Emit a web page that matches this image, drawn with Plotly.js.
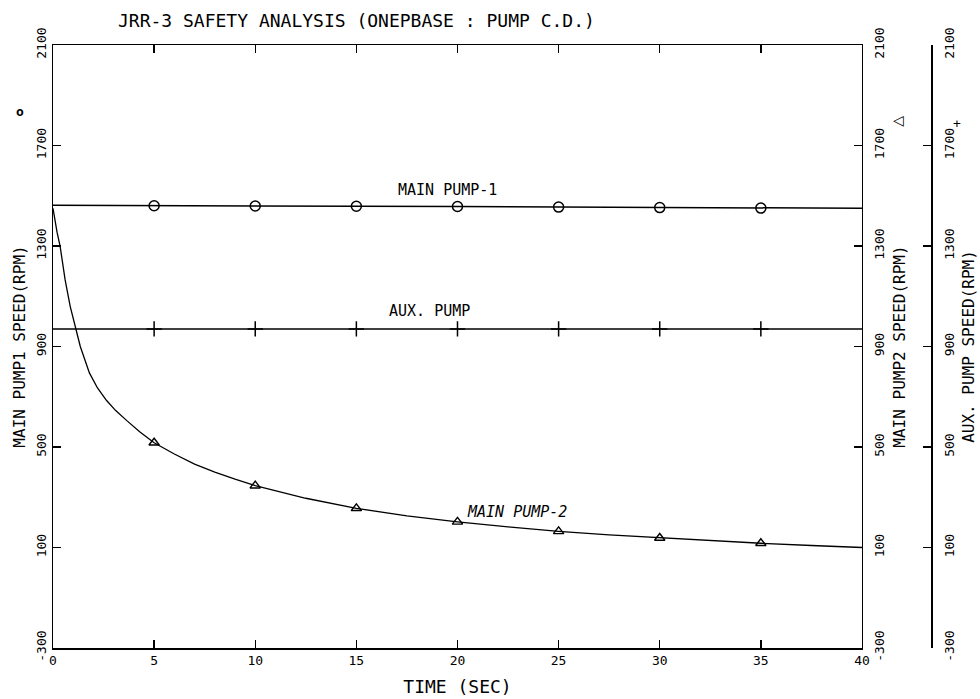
<!DOCTYPE html>
<html>
<head>
<meta charset="utf-8">
<script src="https://cdn.plot.ly/plotly-3.0.1.min.js"></script>
<style>html,body{margin:0;padding:0;background:#fff;}#chart{width:980px;height:699px;}</style>
</head>
<body>
<div id="chart"></div>
<script>
// ---- data ----
const markTimes = [5, 10, 15, 20, 25, 30, 35];

const pump1Time  = [0, 5, 10, 15, 20, 25, 30, 35, 40];
const pump1Speed = [1462, 1460, 1459, 1458, 1457, 1455, 1453, 1451, 1450];

const auxTime  = [0, 5, 10, 15, 20, 25, 30, 35, 40];
const auxSpeed = [970, 970, 970, 970, 970, 970, 970, 970, 970];

const pump2Time  = [0, 0.1, 0.2, 0.35, 0.6, 0.85, 1.1, 1.35, 1.8, 2.2, 2.65, 3.1, 3.65, 4.3, 5,
                    6, 7, 8, 9, 10, 12.5, 15, 17.5, 20, 22.5, 25, 27.5, 30, 32.5, 35, 37.5, 40];
const pump2Speed = [1450, 1395, 1355, 1300, 1165, 1060, 975, 900, 795, 735, 685, 645, 605, 560, 517,
                    472, 432, 400, 372, 346, 296, 256, 226, 202, 182, 164, 150, 138, 127, 117, 108, 100];

const timeTicks  = [0, 5, 10, 15, 20, 25, 30, 35, 40];
const speedTicks = [-300, 100, 500, 900, 1300, 1700, 2100];

const titleText  = 'JRR-3 SAFETY ANALYSIS (ONEPBASE : PUMP C.D.)';
const xTitle     = 'TIME (SEC)';
const y1Title    = 'MAIN PUMP1 SPEED(RPM)';
const y2Title    = 'MAIN PUMP2 SPEED(RPM)';
const y3Title    = 'AUX. PUMP SPEED(RPM)';

// ---- helpers ----
function pick(times, vals) {
  const xs = [], ys = [];
  times.forEach((t, i) => { if (markTimes.includes(t)) { xs.push(t); ys.push(vals[i]); } });
  return {x: xs, y: ys};
}
const FONT = 'DejaVu Sans Mono, Liberation Mono, monospace';
const BLACK = '#000';

const p1m = pick(pump1Time, pump1Speed);
const p2m = pick(pump2Time, pump2Speed);
const axm = pick(auxTime, auxSpeed);

const traces = [
  {x: pump1Time, y: pump1Speed, mode: 'lines', line: {color: BLACK, width: 1.5}, yaxis: 'y', hoverinfo: 'skip'},
  {x: p1m.x, y: p1m.y, mode: 'markers', marker: {symbol: 'circle-open', size: 10, color: BLACK, line: {width: 1.5, color: BLACK}}, yaxis: 'y'},
  {x: pump2Time, y: pump2Speed, mode: 'lines', line: {color: BLACK, width: 1.3}, yaxis: 'y2', hoverinfo: 'skip'},
  {x: p2m.x, y: p2m.y, mode: 'markers', marker: {symbol: 'triangle-up-open', size: 9, color: BLACK, line: {width: 1.4, color: BLACK}}, yaxis: 'y2'},
  {x: auxTime, y: auxSpeed, mode: 'lines', line: {color: BLACK, width: 1.5}, yaxis: 'y3', hoverinfo: 'skip'},
  {x: axm.x, y: axm.y, mode: 'markers', marker: {symbol: 'cross-thin-open', size: 11, color: BLACK, line: {width: 1.5, color: BLACK}}, yaxis: 'y3'}
];

const yCommon = {
  range: [-300, 2100], tickvals: speedTicks, ticktext: speedTicks.map(String),
  ticks: 'inside', ticklen: 8, tickwidth: 1.4, tickcolor: BLACK, tickangle: -90,
  showgrid: false, zeroline: false, showline: true, linecolor: BLACK, linewidth: 1.5,
  tickfont: {family: FONT, size: 13, color: BLACK}, fixedrange: true
};

const layout = {
  width: 980, height: 699,
  margin: {l: 53, r: 10, t: 45, b: 51},
  paper_bgcolor: '#fff', plot_bgcolor: '#fff',
  showlegend: false,
  font: {family: FONT, color: BLACK},
  title: {text: titleText, font: {family: FONT, size: 18, color: BLACK},
          x: 0.0709, xref: 'paper', xanchor: 'left', y: 0.971, yref: 'container', yanchor: 'middle'},
  xaxis: {
    domain: [0, 0.8822], range: [0, 40], tickvals: timeTicks, ticktext: timeTicks.map(String),
    ticks: 'inside', ticklen: 8, tickwidth: 1.4, tickcolor: BLACK, mirror: 'ticks',
    showgrid: false, zeroline: false, showline: true, linecolor: BLACK, linewidth: 1.5,
    tickfont: {family: FONT, size: 13, color: BLACK},
    title: {text: xTitle, font: {family: FONT, size: 18, color: BLACK}, standoff: 13}
  },
  yaxis: Object.assign({}, yCommon, {
    title: {text: y1Title, font: {family: FONT, size: 16, color: BLACK}, standoff: 4}
  }),
  yaxis2: Object.assign({}, yCommon, {
    overlaying: 'y', side: 'right', anchor: 'x', ticklabelstandoff: 5,
    title: {text: y2Title, font: {family: FONT, size: 16, color: BLACK}, standoff: 7}
  }),
  yaxis3: Object.assign({}, yCommon, {
    overlaying: 'y', side: 'right', anchor: 'free', position: 0.9575, ticklabelstandoff: 6,
    title: {text: y3Title, font: {family: FONT, size: 16, color: BLACK}, standoff: 6}
  }),
  annotations: [
    {text: 'MAIN PUMP-1', x: 19.5, y: 1522, xref: 'x', yref: 'y', showarrow: false,
     font: {family: FONT, size: 15, color: BLACK}},
    {text: 'AUX. PUMP', x: 18.6, y: 1043, xref: 'x', yref: 'y', showarrow: false,
     font: {family: FONT, size: 15, color: BLACK}},
    {text: '<i>MAIN PUMP-2</i>', x: 22.95, y: 242, xref: 'x', yref: 'y', showarrow: false,
     font: {family: FONT, size: 15, color: BLACK}},
    {text: '<b>o</b>', x: -0.043, y: 0.905, xref: 'paper', yref: 'paper', showarrow: false,
     font: {family: FONT, size: 13, color: BLACK}},
    {text: '<b>◁</b>', x: 0.93, y: 0.893, xref: 'paper', yref: 'paper', showarrow: false,
     font: {family: 'DejaVu Sans', size: 14, color: BLACK}},
    {text: '+', x: 0.992, y: 0.886, xref: 'paper', yref: 'paper', showarrow: false,
     font: {family: FONT, size: 13, color: BLACK}}
  ]
};

Plotly.newPlot('chart', traces, layout, {displayModeBar: false, staticPlot: true});
</script>
</body>
</html>
